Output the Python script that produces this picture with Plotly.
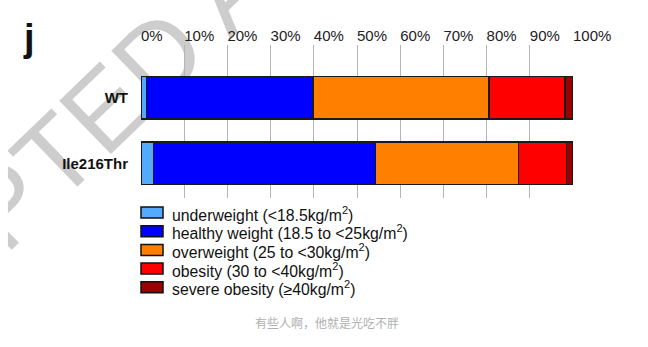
import plotly.graph_objects as go

groups = ["WT", "Ile216Thr"]
categories = [
    "underweight (<18.5kg/m<sup>2</sup>)",
    "healthy weight (18.5 to <25kg/m<sup>2</sup>)",
    "overweight (25 to <30kg/m<sup>2</sup>)",
    "obesity (30 to <40kg/m<sup>2</sup>)",
    "severe obesity (\u226540kg/m<sup>2</sup>)",
]
wt_values = [1.3, 38.5, 40.7, 17.6, 1.9]
ile_values = [2.9, 51.4, 33.1, 11.1, 1.5]
colors = ["#55AAFF", "#0000FF", "#FF8000", "#FF0000", "#9A0000"]
x_ticks = [0, 10, 20, 30, 40, 50, 60, 70, 80, 90, 100]
x_tick_labels = [f"{t}%" for t in x_ticks]

W, H = 648, 347
L, R, T, B = 141, 75.3, 45, 149
pw, ph = W - L - R, H - T - B


def px_to_paper(px, py):
    return (px - L) / pw, (H - B - py) / ph


fig = go.Figure()
for i, cat in enumerate(categories):
    fig.add_trace(go.Bar(
        y=groups,
        x=[wt_values[i], ile_values[i]],
        name=cat,
        orientation="h",
        width=0.65,
        marker=dict(color=colors[i], line=dict(color="#1a1a1a", width=1.5)),
        showlegend=False,
    ))

shapes = []
annotations = []

# watermark (behind the plot)
cx, cy = 140.0, 60.0
ux, uy = 0.70, -0.71
x0, y0 = px_to_paper(cx - 100 * ux, cy - 100 * uy)
x1, y1 = px_to_paper(cx + 100 * ux, cy + 100 * uy)
shapes.append(dict(
    type="line", xref="paper", yref="paper", x0=x0, y0=y0, x1=x1, y1=y1,
    line=dict(color="rgba(0,0,0,0)", width=0), layer="below",
    label=dict(text="ACCEPTED ARTICLE", textposition="middle", textangle=-44,
               xanchor="center", yanchor="middle",
               font=dict(size=108, color="#cdcdcd", family="Liberation Sans")),
))
# left edge of the source image clips the watermark
cx0, cy0 = px_to_paper(0, H)
cx1, cy1 = px_to_paper(8, 0)
shapes.append(dict(type="rect", xref="paper", yref="paper", x0=cx0, y0=cy0, x1=cx1, y1=cy1,
                   fillcolor="white", line=dict(width=0), layer="below"))

# manual legend
leg_y = [212.5, 231.2, 249.9, 268.6, 287.3]
for i, cat in enumerate(categories):
    sx0, sy0 = px_to_paper(141, leg_y[i] - 5.5)
    sx1, sy1 = px_to_paper(163, leg_y[i] + 5.5)
    shapes.append(dict(type="rect", xref="paper", yref="paper",
                       x0=sx0, y0=sy0, x1=sx1, y1=sy1,
                       fillcolor=colors[i], line=dict(color="#111", width=1.5)))
    tx, ty = px_to_paper(170, leg_y[i] + 1)
    annotations.append(dict(text=cat, x=tx, y=ty, xref="paper", yref="paper",
                            xanchor="left", yanchor="middle", showarrow=False,
                            font=dict(size=15.8, color="#111", family="Liberation Sans")))

jx, jy = px_to_paper(21, 15)
fx, fy = px_to_paper(327, 322)
annotations += [
    dict(text="<b>j</b>", x=jx, y=jy, xref="paper", yref="paper",
         xanchor="left", yanchor="top", showarrow=False,
         font=dict(size=38, color="#111", family="Liberation Sans")),
    dict(text="有些人啊，他就是光吃不胖", x=fx, y=fy, xref="paper", yref="paper",
         xanchor="center", yanchor="middle", showarrow=False,
         font=dict(size=12, color="#b0b0b0", family="Noto Sans CJK SC")),
]

fig.update_layout(
    width=W, height=H,
    margin=dict(l=L, r=R, t=T, b=B, pad=0),
    barmode="stack",
    paper_bgcolor="white",
    plot_bgcolor="rgba(0,0,0,0)",
    font=dict(family="Liberation Sans", color="#111"),
    showlegend=False,
    shapes=shapes,
    annotations=annotations,
    xaxis=dict(range=[0, 100], side="top", tickvals=x_ticks, ticktext=x_tick_labels,
               showgrid=True, gridcolor="#b5b5b5", gridwidth=1, zeroline=False,
               showline=False, ticks="", ticklabelposition="outside right",
               tickfont=dict(size=15, color="#222"), fixedrange=True),
    yaxis=dict(range=[1.53, -0.81], showgrid=False, zeroline=False, showline=False,
               ticks="", ticklabelstandoff=12,
               tickfont=dict(size=15, color="#111", family="Liberation Sans", weight="bold")),
)

fig.write_html("out.html")
